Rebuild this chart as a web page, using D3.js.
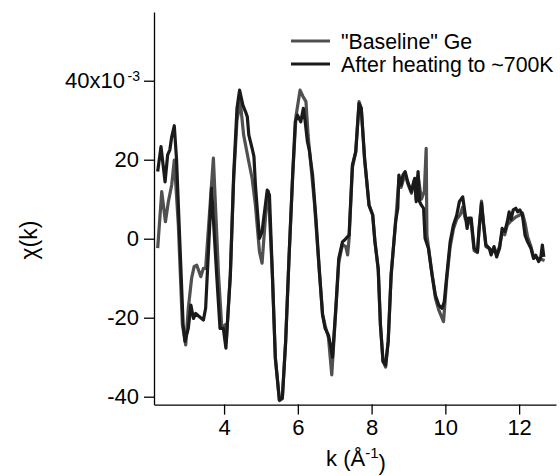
<!DOCTYPE html>
<html>
<head>
<meta charset="utf-8">
<script src="https://cdn.jsdelivr.net/npm/d3@7"></script>
<style>
  body { margin: 0; background: #fff; }
  text { font-family: Arial, "Liberation Sans", Helvetica, sans-serif; fill: #000; }
</style>
</head>
<body>
<svg id="container" width="560" height="476"></svg>
<script>
// chi(k) data, values in units of 1e-3
const heatedK = [2.20, 2.29, 2.40, 2.47, 2.53, 2.58, 2.65, 2.71, 2.80, 2.89, 2.94, 3.03, 3.10, 3.17, 3.23, 3.30, 3.44, 3.50, 3.66, 3.80,
  3.89, 3.98, 4.05, 4.17, 4.26, 4.35, 4.42, 4.51, 4.58, 4.63, 4.67, 4.76, 4.81, 4.85, 4.96, 5.03, 5.17, 5.23, 5.31, 5.39,
  5.50, 5.58, 5.67, 5.76, 5.86, 5.93, 5.99, 6.08, 6.15, 6.20, 6.26, 6.31, 6.40, 6.49, 6.58, 6.67, 6.74, 6.83, 6.90, 6.94,
  7.03, 7.11, 7.21, 7.26, 7.39, 7.48, 7.57, 7.66, 7.72, 7.81, 7.93, 8.03, 8.09, 8.18, 8.24, 8.31, 8.38, 8.45, 8.53, 8.65,
  8.71, 8.74, 8.80, 8.85, 8.91, 8.98, 9.08, 9.12, 9.17, 9.21, 9.26, 9.30, 9.35, 9.41, 9.45, 9.54, 9.64, 9.73, 9.82, 9.91,
  9.97, 10.04, 10.13, 10.22, 10.31, 10.38, 10.47, 10.54, 10.59, 10.63, 10.70, 10.78, 10.87, 10.91, 10.98, 11.04, 11.10, 11.19, 11.24, 11.32,
  11.39, 11.47, 11.54, 11.61, 11.68, 11.73, 11.78, 11.84, 11.91, 11.96, 12.02, 12.09, 12.16, 12.23, 12.32, 12.39, 12.45, 12.53, 12.59, 12.63, 12.67];
const heatedChi = [17, 23.3, 14.4, 21.2, 22.5, 25.8, 28.6, 20.3, -0.8, -21.8, -26, -22.7, -16.8, -20.2, -18.9, -19.5, -20.6, -17.6, 12.8, -9.2,
  -22.7, -22.7, -27.7, -9.2, 16.1, 33, 37.6, 33.8, 32.2, 30.9, 26.3, 22.9, 20.8, 13.6, 0.1, 1.8, 12.3, 11.1, -9.2, -30.3,
  -40.8, -40.3, -26, -5, 16.1, 29.6, 31.3, 29.6, 33, 29.6, 24.6, 22.5, 16.1, 5.2, -7.5, -19.3, -22.7, -24.4, -27.7, -30,
  -17.6, -5, -0.8, -0.4, 0.9, 18.7, 22, 34.2, 33, 20.4, 8.5, 6, -0.8, -7.5, -21.8, -31.1, -32, -26, -9.2, 4.3,
  7.7, 16.1, 13.6, 16.1, 17, 14.4, 11.9, 13.6, 15.3, 9.4, 17, 9.4, 8.5, 7.7, 0.1, -2.4, -9.2, -14.3, -16.8, -17.6,
  -16, -9.2, -0.8, 3.5, 6, 9.4, 10.6, 6, 2.6, 5.2, 5.2, -2.4, -3.3, 1.8, 9, 3.5, -1.6, -2.4, -4.1, -2,
  -4.6, -2.4, 2.6, 1.8, 4.3, 6.8, 4.9, 7.3, 7.7, 6.8, 7.3, 6.0, 0.9, -0.8, -2.4, -5, -4.2, -5.8, -4.6, -1.6, -4.6];

const baseK = [2.20, 2.31, 2.41, 2.49, 2.58, 2.65, 2.76, 2.87, 2.96, 3.03, 3.12, 3.19, 3.26, 3.37, 3.44, 3.50, 3.71, 3.85, 3.94, 4.03,
  4.06, 4.17, 4.26, 4.35, 4.44, 4.53, 4.67, 4.76, 4.85, 4.96, 5.03, 5.14, 5.20, 5.31, 5.39, 5.50, 5.58, 5.67, 5.76, 5.86,
  5.95, 6.06, 6.14, 6.22, 6.28, 6.35, 6.45, 6.58, 6.67, 6.74, 6.83, 6.92, 7.03, 7.11, 7.21, 7.30, 7.35, 7.39, 7.48, 7.57,
  7.66, 7.72, 7.81, 7.93, 8.03, 8.09, 8.18, 8.24, 8.31, 8.38, 8.45, 8.53, 8.65, 8.74, 8.80, 8.91, 8.98, 9.08, 9.17, 9.21,
  9.26, 9.35, 9.43, 9.48, 9.50, 9.54, 9.64, 9.73, 9.82, 9.95, 10.04, 10.13, 10.22, 10.31, 10.40, 10.47, 10.54, 10.63, 10.70, 10.78,
  10.87, 10.91, 10.98, 11.04, 11.10, 11.19, 11.28, 11.39, 11.47, 11.54, 11.61, 11.68, 11.78, 11.91, 12.02, 12.09, 12.16, 12.23, 12.32, 12.39,
  12.53, 12.69];
const baseChi = [-2.4, 11.9, 4.3, 9.4, 13.6, 19.9, 3.5, -21.8, -26.9, -17.6, -10, -7, -6.7, -9.6, -7.5, -7.5, 20.4, -9.2, -22.7, -21.8,
  -26, -9, 15, 30, 34.7, 26.3, 19.5, 15.3, 8.5, -3.3, -6.2, 7.7, 12, -9, -30, -41, -40.5, -26, -5, 16,
  31, 37.6, 36, 34.7, 26, 19, 9, -8, -19, -22, -25, -34.5, -18, -6, -1.5, -2, -4.1, 0, 18, 22,
  34.7, 33, 20, 8.5, 6, -0.5, -8, -22, -31, -32.5, -26, -9, 4, 15, 13, 16.5, 14, 11.5, 15, 10,
  16, 10, 12, 22.9, 1, -2, -9, -15, -18, -21, -10, -2, 2.5, 5, 6, 8, 5, 4, 4, -3,
  -3.5, 2, 9.5, 3, -2, -2.5, -3, -3.5, -2, 1.5, 1, 3.5, 4.5, 5.5, 6, 6.5, 4, 0.5, -2, -4.5,
  -5, -5.5];

const xTicks = [4, 6, 8, 10, 12];
const yTicks = [-40, -20, 0, 20, 40];
const seriesNames = ['"Baseline" Ge', 'After heating to ~700K'];
const seriesColors = ['#505050', '#1a1a1a'];

const svg = d3.select('#container');

const x = d3.scaleLinear().domain([2.1, 13.0]).range([154, 556]);
const y = d3.scaleLinear().domain([-42, 57.4]).range([404.6, 12]);

const line = d3.line()
    .x(d => x(d[0]))
    .y(d => y(d[1]));

const series = [
    d3.zip(baseK, baseChi),
    d3.zip(heatedK, heatedChi)
];

svg.selectAll('path.trace')
    .data(series)
    .enter()
    .append('path')
    .attr('class', 'trace')
    .attr('fill', 'none')
    .attr('stroke', (d, i) => seriesColors[i])
    .attr('stroke-width', 3.2)
    .attr('stroke-linejoin', 'round')
    .attr('d', line);

// axes
const xAxis = svg.append('g')
    .attr('transform', `translate(0,${y.range()[0]})`)
    .call(d3.axisBottom(x).tickValues(xTicks).tickSize(10).tickPadding(5).tickSizeOuter(0));

const yAxis = svg.append('g')
    .attr('transform', `translate(${x.range()[0]},0)`)
    .call(d3.axisLeft(y).tickValues(yTicks).tickSize(10).tickPadding(5).tickSizeOuter(0)
        .tickFormat(d => d === 40 ? '40x10' : d));

[xAxis, yAxis].forEach(g => {
    g.select('.domain').attr('stroke', '#000').attr('stroke-width', 1.3);
    g.selectAll('.tick line').attr('stroke', '#000').attr('stroke-width', 1.3);
    g.selectAll('.tick text')
        .attr('fill', '#000')
        .style('font-size', '22px')
        .style('font-family', 'Arial, "Liberation Sans", sans-serif');
});

// move the 40x10 label left to make room for the exponent
yAxis.selectAll('.tick')
    .filter(d => d === 40)
    .select('text')
    .attr('x', -29)
    .call(t => t.append('tspan')
        .attr('x', -14)
        .attr('dy', '-0.55em')
        .style('font-size', '14px')
        .text('-3'));

svg.append('text')
    .attr('transform', `translate(37,240) rotate(-90)`)
    .attr('text-anchor', 'middle')
    .style('font-size', '23px')
    .text('χ(k)');

const xt = svg.append('text')
    .attr('x', 356)
    .attr('y', 466)
    .attr('text-anchor', 'middle')
    .style('font-size', '22px')
    .text('k (Å');
xt.append('tspan').attr('dy', '-0.55em').style('font-size', '15px').text('-1');
xt.append('tspan').attr('dy', '0.55em').text(')');

// legend
const legend = svg.selectAll('g.legend')
    .data(seriesNames)
    .enter()
    .append('g')
    .attr('class', 'legend')
    .attr('transform', (d, i) => `translate(291,${41 + i * 23})`);

legend.append('line')
    .attr('x1', 0)
    .attr('x2', 39)
    .attr('stroke', (d, i) => seriesColors[i])
    .attr('stroke-width', 3);

legend.append('text')
    .attr('x', 50)
    .attr('dy', '0.36em')
    .style('font-size', '21.3px')
    .text(d => d);
</script>
</body>
</html>
